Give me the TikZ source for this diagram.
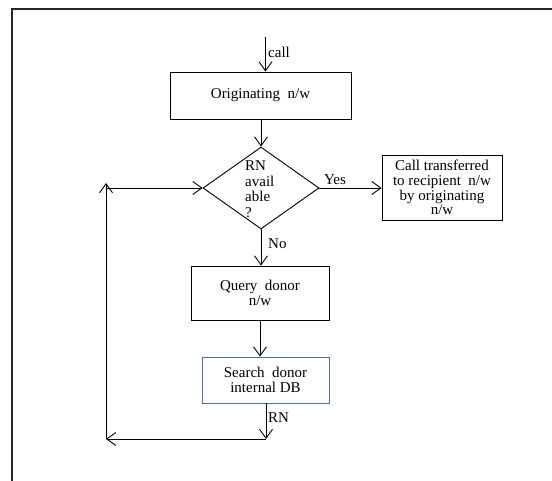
\documentclass[tikz,border=0pt]{standalone}
\usepackage{fontspec}
\setmainfont{Liberation Serif}
\usepackage{xcolor}
\usetikzlibrary{arrows.meta, shapes.geometric, calc}
\definecolor{boxblue}{RGB}{79,110,160}
\tikzset{
  flowbox/.style={draw=black, line width=0.9pt, rectangle, inner sep=0pt, align=center, font=\fontsize{15}{14.8}\selectfont},
  decision/.style={draw=black, line width=0.9pt, diamond, inner sep=0pt, minimum width=116pt, minimum height=82pt},
  flow/.style={line width=0.9pt, -{Straight Barb[length=9pt,width=13pt]}},
  tag/.style={inner sep=0pt, font=\fontsize{15}{15}\selectfont}
}

\begin{document}
\begin{tikzpicture}[x=1pt, y=-1pt]
  \useasboundingbox (0, 0) rectangle (552, 481);
  \draw [line width=2pt, draw=black!85] (11.5, 481) -- (11.5, 9.5) -- (552, 9.5);

  \node [flowbox, minimum width=181pt, minimum height=47pt] (orig) at (260.5, 95.5) {Originating \ n/w};
  \node [decision] (rn) at (261, 188) {};
  \node [tag, align=left, anchor=west, font=\fontsize{15}{15.5}\selectfont] (rntext) at (245, 189) {RN\\avail\\able\\?};
  \node [flowbox, minimum width=120pt, minimum height=65pt] (yes) at (442, 187.5) {Call transferred\\to recipient \ n/w\\by originating\\n/w};
  \node [flowbox, minimum width=138pt, minimum height=54pt] (query) at (260, 293) {Query \ donor\\n/w};
  \node [flowbox, draw=boxblue, minimum width=127pt, minimum height=46pt] (search) at (265.5, 380) {Search \ donor\\internal DB};

  \coordinate (callin) at (265.5, 37);
  \coordinate (rnout) at (266, 439);
  \coordinate (loopbot) at (106, 439);
  \coordinate (looptop) at (106, 183);
  \coordinate (loopin) at (106, 188);

  \draw [flow] (callin) -- (callin |- orig.north);
  \draw [flow] (orig.south -| rn.north) -- (rn.north);
  \draw [flow] (rn.east) -- (yes.west |- rn.east);
  \draw [flow] (rn.south) -- (rn.south |- query.north);
  \draw [flow] (query.south) -- (query.south |- search.north);
  \draw [flow] (search.south -| rnout) -- (rnout);
  \draw [flow] (rnout) -- (loopbot);
  \draw [flow] (loopbot) -- (looptop);
  \draw [flow] (loopin) -- (rn.west);

  \node [tag, anchor=west] (calltag) at (268, 52) {call};
  \node [tag] (yestag) at (335, 180) {Yes};
  \node [tag, anchor=west] (notag) at (268, 244) {No};
  \node [tag, anchor=west] (rntag) at (268, 418) {RN};
\end{tikzpicture}
\end{document}
